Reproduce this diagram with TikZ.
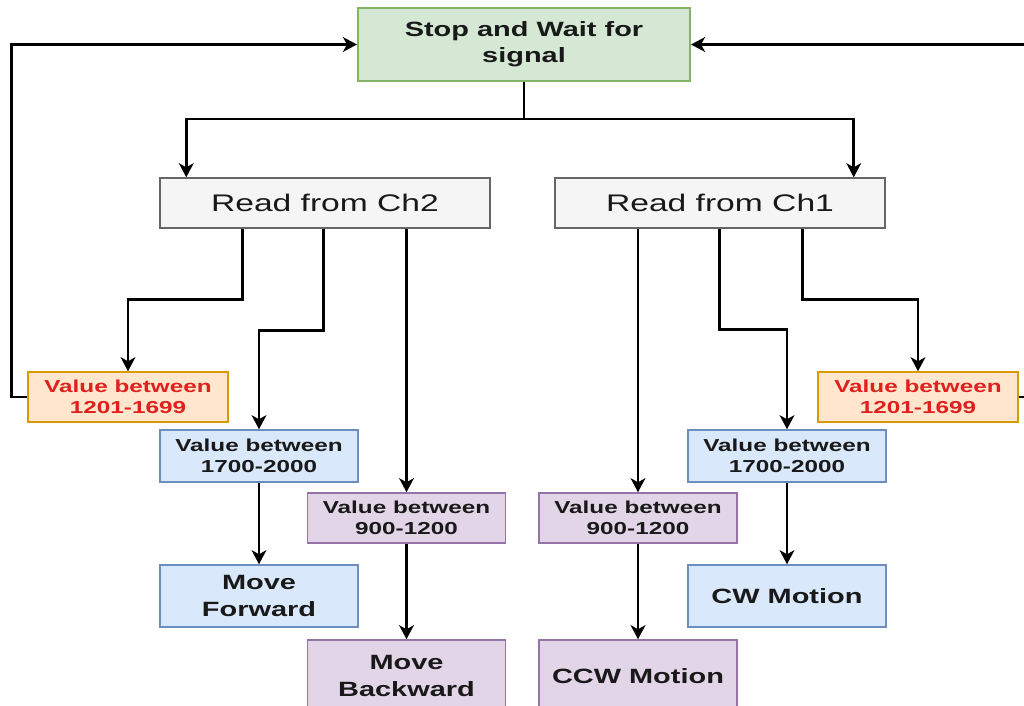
\documentclass[tikz,border=0pt]{standalone}
\usepackage{fontspec}
\setmainfont{Liberation Sans}[FakeStretch=1.4]
\usetikzlibrary{arrows.meta,calc}
\tikzset{every picture/.style={line width=0.75pt}}
\definecolor{stopfill}{HTML}{D5E8D4}\definecolor{stopline}{HTML}{82B366}
\definecolor{readfill}{HTML}{F5F5F5}\definecolor{readline}{HTML}{666666}
\definecolor{midfill}{HTML}{FFE6CC}\definecolor{midline}{HTML}{D79B00}
\definecolor{hifill}{HTML}{DAE8FC}\definecolor{hiline}{HTML}{6C8EBF}
\definecolor{lofill}{HTML}{E1D5E7}\definecolor{loline}{HTML}{9673A6}
\definecolor{warnred}{HTML}{E0201E}
\tikzset{
  box/.style={draw, line width=1.1pt, align=center, inner sep=0.75pt, text=black!90},
  stopbox/.style={box, fill=stopfill, draw=stopline, line width=1.5pt, minimum width=249pt, minimum height=54.75pt, font=\fontsize{15.5}{19.5}\selectfont\bfseries},
  readbox/.style={box, fill=readfill, draw=readline, minimum width=247.5pt, minimum height=37.5pt, font=\fontsize{18}{21}\selectfont},
  midbox/.style={box, fill=midfill, draw=midline, minimum width=150pt, minimum height=37.5pt, text=warnred, font=\fontsize{13}{16}\selectfont\bfseries},
  hibox/.style={box, fill=hifill, draw=hiline, minimum width=148.5pt, minimum height=39pt, font=\fontsize{13}{16}\selectfont\bfseries},
  lobox/.style={box, fill=lofill, draw=loline, minimum width=148.5pt, minimum height=37.5pt, font=\fontsize{13}{16}\selectfont\bfseries},
  hiact/.style={hibox, minimum height=46.5pt, font=\fontsize{15.5}{20}\selectfont\bfseries},
  loact/.style={lobox, minimum height=54pt, font=\fontsize{15.5}{20}\selectfont\bfseries},
  wire/.style={line width=2.2pt, black},
  flow/.style={wire, -{Stealth[length=10.5pt,width=11pt,inset=3pt]}}
}
\begin{document}
\begin{tikzpicture}[x=0.75pt,y=0.75pt,yscale=-1,xscale=1]
\useasboundingbox (0,0) rectangle (1024,706);
\clip (0,0) rectangle (1024,706);

% Text Node
\node[stopbox] (stop) at (524,44.5) {Stop and Wait for\\signal};
% Text Node
\node[readbox] (ch2) at (325,203) {Read from Ch2};
\node[readbox] (ch1) at (720,203) {Read from Ch1};

% Text Node
\node[midbox] (mid2) at (128,397) {Value between\\1201-1699};
\node[hibox] (hi2) at (259,456) {Value between\\1700-2000};
\node[lobox] (lo2) at (406.5,518) {Value between\\900-1200};
\node[lobox] (lo1) at (638,518) {Value between\\900-1200};
\node[hibox] (hi1) at (787,456) {Value between\\1700-2000};
\node[midbox] (mid1) at (918,397) {Value between\\1201-1699};

% Text Node
\node[hiact] (fwd) at (259,596) {Move\\Forward};
\node[loact] (bwd) at (406.5,676) {Move\\Backward};
\node[loact] (ccw) at (638,676) {CCW Motion};
\node[hiact] (cw) at (787,596) {CW Motion};

%Straight Lines
\draw[wire] (stop.south) -- ++(0,37) coordinate (split);
\draw[flow] (split) -| ($(ch2.north west)+(27,0)$);
\draw[flow] (split) -| ($(ch1.north east)+(-32,0)$);

%Straight Lines
\draw[flow] ($(ch2.south west)+(83,0)$) -- ++(0,71) -| (mid2.north);
\draw[flow] ($(ch2.south west)+(164,0)$) -- ++(0,102) -| (hi2.north);
\draw[flow] (lo2.north |- ch2.south) -- (lo2.north);
\draw[flow] (lo1.north |- ch1.south) -- (lo1.north);
\draw[flow] ($(ch1.south west)+(165,0)$) -- ++(0,101) -| (hi1.north);
\draw[flow] ($(ch1.south west)+(248,0)$) -- ++(0,71) -| (mid1.north);

%Straight Lines
\draw[flow] (hi2.south) -- (fwd.north);
\draw[flow] (lo2.south) -- (bwd.north);
\draw[flow] (lo1.south) -- (ccw.north);
\draw[flow] (hi1.south) -- (cw.north);

%Straight Lines
\draw[flow] (mid2.west) -- ++(-16,0) |- (stop.west);
\draw[flow] (mid1.east) -- ++(20,0) |- (stop.east);

\end{tikzpicture}
\end{document}
